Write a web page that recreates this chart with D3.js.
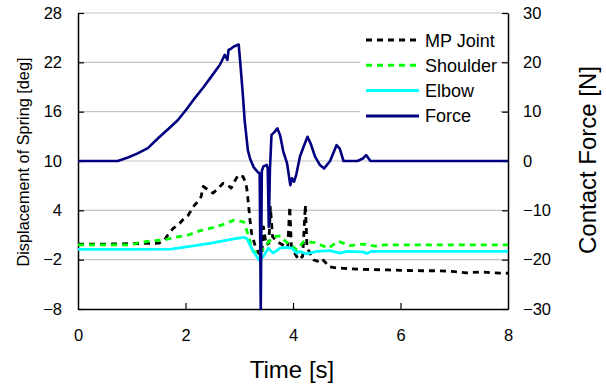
<!doctype html>
<html>
  <head>
    <script src="https://cdnjs.cloudflare.com/ajax/libs/d3/7.8.5/d3.min.js"></script>
    <style>
      body { margin: 0; background: #fff; }
      text { font-family: "Liberation Sans", Arial, sans-serif; }
    </style>
  </head>
  <body>
    <svg></svg>
    <script>
      var width = 606,
          height = 387;
      var plotLeft = 78, plotRight = 508, plotTop = 13, plotBottom = 309;

      // data
      var xTicks = [0, 2, 4, 6, 8];
      var degTicks = [-8, -2, 4, 10, 16, 22, 28];
      var forceTicks = [-30, -20, -10, 0, 10, 20, 30];

      var forceTime = [0, 0.74, 0.93, 1.10, 1.30, 1.49, 1.67, 1.86, 2.02, 2.17, 2.33, 2.48, 2.64, 2.73, 2.78, 2.80, 2.85, 2.90, 2.96, 2.99, 3.02, 3.07, 3.10, 3.16, 3.20, 3.27, 3.35, 3.38, 3.40, 3.42, 3.45, 3.51, 3.53, 3.55, 3.57, 3.60, 3.65, 3.71, 3.76, 3.82, 3.89, 3.95, 3.98, 4.02, 4.06, 4.13, 4.20, 4.27, 4.33, 4.41, 4.50, 4.58, 4.69, 4.81, 4.87, 4.94, 5.00, 5.10, 5.20, 5.30, 5.36, 5.44, 8.0];
      var forceVal = [0, 0, 0.7, 1.5, 2.6, 4.6, 6.4, 8.3, 10.5, 12.7, 14.9, 17.1, 19.5, 21.5, 20.5, 22.5, 22.8, 23.2, 23.5, 23.6, 19.8, 13, 8.3, 2.2, 0.5, -1.3, -2.3, -2.5, -30, -2.0, -1.1, -0.8, -1.5, -13.3, -2, 5.3, 5.8, 6.6, 5.2, 1.9, -0.5, -4.9, -3.5, -4.2, -2.8, 0.9, 3.0, 4.9, 3.5, 0.9, -0.8, -1.5, 0, 3.2, 2.5, 0, 0, 0, 0, 0.5, 1.2, 0, 0];

      var mpTime = [0, 0.5, 1.0, 1.5, 1.60, 1.67, 1.77, 1.89, 1.97, 2.05, 2.17, 2.25, 2.29, 2.33, 2.42, 2.51, 2.60, 2.70, 2.78, 2.85, 2.92, 2.98, 3.07, 3.11, 3.14, 3.17, 3.20, 3.23, 3.30, 3.36, 3.42, 3.45, 3.50, 3.55, 3.58, 3.62, 3.70, 3.78, 3.90, 3.94, 3.97, 4.05, 4.10, 4.18, 4.23, 4.26, 4.33, 4.38, 4.45, 4.53, 4.60, 4.66, 4.80, 4.94, 5.20, 5.43, 5.77, 6.0, 6.4, 6.73, 7.0, 7.23, 7.5, 7.7, 8.0];
      var mpVal = [-0.1, -0.1, -0.05, 0.0, 0.3, 1.0, 1.8, 2.4, 3.0, 3.4, 4.65, 5.2, 5.66, 6.9, 6.5, 6.1, 6.6, 7.3, 7.1, 6.7, 7.6, 8.3, 8.1, 7.5, 6.7, 4.85, 2.8, 1.2, -0.4, -1.2, -1.5, 2.0, -0.2, 0.0, 4.4, 0.8, 0.2, -0.1, -0.6, 4.45, -0.4, -1.4, -2.0, -1.6, 4.65, -0.5, -1.4, -2.0, -2.2, -1.85, -2.3, -2.85, -3.0, -3.05, -3.15, -3.2, -3.25, -3.3, -3.35, -3.35, -3.45, -3.6, -3.5, -3.6, -3.65];

      var shoulderTime = [0, 1.0, 1.12, 1.36, 1.61, 1.80, 2.05, 2.26, 2.45, 2.67, 2.90, 3.00, 3.08, 3.17, 3.24, 3.36, 3.45, 3.55, 3.64, 3.77, 3.85, 3.95, 4.07, 4.20, 4.41, 4.55, 4.66, 4.84, 5.06, 5.31, 5.53, 5.7, 8.0];
      var shoulderVal = [-0.2, -0.2, 0.06, 0.27, 0.4, 0.72, 1.0, 1.5, 1.8, 2.2, 2.8, 2.7, 2.6, 1.0, -0.8, -1.4, -0.6, 0.2, 0.8, 0.9, 0.3, -0.2, -0.8, 0.2, 0.06, -0.3, -0.6, 0.25, -0.3, -0.1, -0.35, -0.2, -0.2];

      var elbowTime = [0, 1.0, 1.73, 2.05, 2.27, 2.48, 2.70, 2.85, 3.08, 3.14, 3.26, 3.37, 3.45, 3.54, 3.63, 3.76, 3.88, 3.98, 4.07, 4.13, 4.25, 4.44, 4.69, 4.87, 5.0, 5.3, 5.37, 5.45, 6.0, 8.0];
      var elbowVal = [-0.75, -0.75, -0.72, -0.42, -0.2, 0.0, 0.3, 0.48, 0.72, 0.6, -1.0, -2.04, -1.6, -0.6, -1.2, -0.6, -0.5, -0.6, -1.2, -1.0, -1.3, -1.0, -0.9, -1.2, -1.0, -1.05, -1.25, -1.0, -1.0, -1.0];

      var legendNames = ["MP Joint", "Shoulder", "Elbow", "Force"];

      var svg = d3.select("svg").attr("width", width).attr("height", height);

      var x = d3.scaleLinear().domain([0, 8]).range([plotLeft, plotRight]);
      var yDeg = d3.scaleLinear().domain([-8, 28]).range([plotBottom, plotTop]);
      var yForce = d3.scaleLinear().domain([-30, 30]).range([plotBottom, plotTop]);

      //グリッド
      svg.append("g").selectAll("line").data(degTicks.slice(1))
        .enter().append("line")
          .attr("x1", plotLeft).attr("x2", plotRight)
          .attr("y1", yDeg).attr("y2", yDeg)
          .style("stroke", "#c4c4c4")
          .style("stroke-width", 1.2);

      //軸
      var xAxis = svg.append("g").attr("transform", "translate(0," + plotBottom + ")")
          .call(d3.axisBottom(x).tickValues(xTicks).tickSizeInner(-6).tickSizeOuter(0).tickPadding(20));
      var yAxisL = svg.append("g").attr("transform", "translate(" + plotLeft + ",0)")
          .call(d3.axisLeft(yDeg).tickValues(degTicks).tickSizeInner(-6).tickSizeOuter(0).tickPadding(16));
      var yAxisR = svg.append("g").attr("transform", "translate(" + plotRight + ",0)")
          .call(d3.axisRight(yForce).tickValues(forceTicks).tickSizeInner(-6).tickSizeOuter(0).tickPadding(15));

      [xAxis, yAxisL, yAxisR].forEach(function(a) {
        a.select(".domain").style("stroke", "#000").style("stroke-width", 1.5);
        a.selectAll(".tick line").style("stroke", "#000").style("stroke-width", 1.2);
        a.selectAll("text").style("font-size", "16.5px").style("fill", "#000")
          .style("font-family", "'Liberation Sans', Arial, sans-serif");
      });
      xAxis.selectAll(".tick").filter(function(d) { return d === 0 || d === 8; }).select("line").remove();

      //系列
      function series(ts, vs) { return ts.map(function(t, i) { return [t, vs[i]]; }); }
      var degLine = d3.line().x(function(d) { return x(d[0]); }).y(function(d) { return yDeg(d[1]); });
      var forceLine = d3.line().x(function(d) { return x(d[0]); }).y(function(d) { return yForce(d[1]); });

      var lines = [
        { data: series(mpTime, mpVal), gen: degLine, color: "#000000", dash: "6,5", w: 2.8 },
        { data: series(shoulderTime, shoulderVal), gen: degLine, color: "#00ff00", dash: "6,5", w: 2.8 },
        { data: series(elbowTime, elbowVal), gen: degLine, color: "#00ffff", dash: null, w: 2.8 },
        { data: series(forceTime, forceVal), gen: forceLine, color: "#000080", dash: null, w: 2.6 }
      ];

      svg.append("g").selectAll("path").data(lines)
        .enter().append("path")
          .attr("d", function(d) { return d.gen(d.data); })
          .style("fill", "none")
          .style("stroke", function(d) { return d.color; })
          .style("stroke-width", function(d) { return d.w; })
          .style("stroke-dasharray", function(d) { return d.dash; })
          .style("stroke-linejoin", "round");

      //凡例
      var legend = svg.append("g");
      legend.append("rect").attr("x", 360).attr("y", 24).attr("width", 140).attr("height", 104).style("fill", "#fff");
      var item = legend.selectAll("g.item").data(lines)
        .enter().append("g")
          .attr("transform", function(d, i) { return "translate(366," + (40 + i * 25.3) + ")"; });
      item.append("line").attr("x1", 0).attr("x2", 53)
          .style("stroke", function(d) { return d.color; })
          .style("stroke-width", 3)
          .style("stroke-dasharray", function(d) { return d.dash; });
      item.append("text").attr("x", 59).attr("y", 6.5)
          .style("font-size", "18px")
          .text(function(d, i) { return legendNames[i]; });

      //軸タイトル
      svg.append("text").attr("x", 292).attr("y", 378).attr("text-anchor", "middle")
          .style("font-size", "24px").text("Time [s]");
      svg.append("text").attr("transform", "translate(29,162) rotate(-90)").attr("text-anchor", "middle")
          .attr("textLength", 209).attr("lengthAdjust", "spacingAndGlyphs")
          .style("font-size", "17px").text("Displacement of Spring [deg]");
      svg.append("text").attr("transform", "translate(596,160) rotate(-90)").attr("text-anchor", "middle")
          .style("font-size", "24px").text("Contact Force [N]");
    </script>
  </body>
</html>
